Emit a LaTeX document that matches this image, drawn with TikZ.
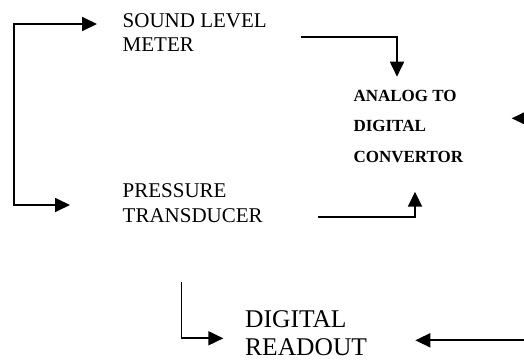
\documentclass[tikz,border=0pt]{standalone}
\usepackage{fontspec}
\setmainfont{Liberation Serif}
\usetikzlibrary{arrows.meta}

\tikzset{
	bighead/.tip={Triangle[length=15pt,width=14pt]},
	flow/.style={line width=1.8pt, -bighead},
	blocktext/.style={anchor=north west, inner sep=0pt, align=left},
}

\begin{document}
\begin{tikzpicture}[x=1pt, y=-1pt]
	\useasboundingbox (0,0) rectangle (524,362);

	% text blocks
	\node[blocktext, font=\fontsize{21}{24}\selectfont] (meter) at (122.5,13.6)
		{SOUND LEVEL\\METER};
	\node[blocktext, font=\fontsize{21}{24.5}\selectfont] (press) at (122.5,183.6)
		{PRESSURE\\TRANSDUCER};
	\node[blocktext, font=\fontsize{17}{30.5}\selectfont\bfseries] (adc) at (353.3,90)
		{ANALOG TO\\DIGITAL\\CONVERTOR};
	\node[blocktext, font=\fontsize{25.5}{28}\selectfont] (readout) at (245,310.5)
		{DIGITAL\\READOUT};

	% ends of the connectors
	\coordinate (meter-in) at (97,24);
	\coordinate (press-in) at (70,205);
	\coordinate (meter-out) at (300.7,37.3);
	\coordinate (adc-top) at (397,76.7);
	\coordinate (press-out) at (318,216.7);
	\coordinate (adc-bot) at (415,191.7);
	\coordinate (back-top) at (545,118.3);
	\coordinate (adc-right) at (511.7,118.3);
	\coordinate (adc-down) at (181.5,281.5);
	\coordinate (readout-in) at (223.3,338.3);
	\coordinate (back-bot) at (545,340.3);
	\coordinate (readout-right) at (415.3,340.3);

	% connectors
	\draw[flow, bighead-bighead] (meter-in) -- ++(-83,0) |- (press-in);
	\draw[flow] (meter-out) -| (adc-top);
	\draw[flow] (press-out) -| (adc-bot);
	\draw[flow] (back-top) -- (adc-right);
	\draw[flow] (adc-down) |- (readout-in);
	\draw[flow] (back-bot) -- (readout-right);

\end{tikzpicture}
\end{document}
